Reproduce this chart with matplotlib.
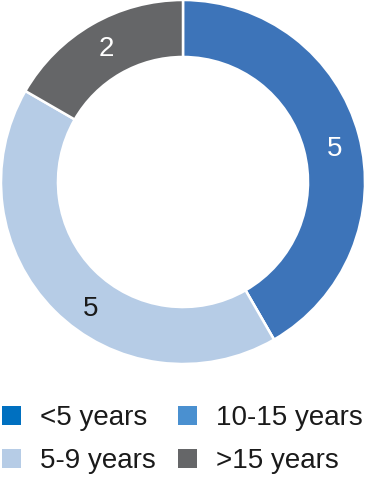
import matplotlib
matplotlib.use("Agg")
import matplotlib.pyplot as plt
from matplotlib.patches import Patch
import numpy as np

# Data (series order as in the source chart)
categories = ["<5 years", "10-15 years", "5-9 years", ">15 years"]
values = [5, 0, 5, 2]
slice_colors = ["#3D74B9", "#4A90D0", "#B6CCE6", "#656668"]
legend_colors = ["#0070C0", "#4A90D0", "#B6CCE6", "#656668"]
label_colors = ["white", "white", "#1a1a1a", "white"]
label_angle_shift = [-2.2, 0.0, 8.6, -0.4]  # label placement tweak (degrees)

FONT = "Liberation Sans"
W, H = 366, 478
fig = plt.figure(figsize=(W / 100, H / 100), dpi=100)
ax = fig.add_axes([1 / W, (H - 364) / H, 364 / W, 364 / H])

ring = 0.313
wedges, _ = ax.pie(values, colors=slice_colors, startangle=90, counterclock=False,
                   radius=1.0, wedgeprops=dict(width=ring, edgecolor="white", linewidth=1.8))
ax.set_xlim(-1, 1)
ax.set_ylim(-1, 1)
ax.set_aspect("equal")
ax.axis("off")

total = sum(values)
angle = 90.0
r_lab = 1 - ring / 2 + 0.01
for v, c, s in zip(values, label_colors, label_angle_shift):
    span = 360.0 * v / total
    mid = np.deg2rad(angle - span / 2 + s)
    angle -= span
    if v == 0:
        continue
    ax.text(r_lab * np.cos(mid), r_lab * np.sin(mid) - 0.01, str(v), ha="center", va="center",
            fontsize=20, color=c, family=FONT)

# legend: column-major fill, so reorder to match row-major source layout
order = [0, 2, 1, 3]
handles = [Patch(facecolor=legend_colors[i], edgecolor="none", label=categories[i]) for i in order]
fig.legend(handles=handles, loc="upper left", bbox_to_anchor=(2 / W, 1 - 405 / H), ncol=2,
           frameon=False, prop=dict(family=FONT, size=20), handlelength=0.68, handleheight=0.68,
           handletextpad=0.68, columnspacing=0.8, labelspacing=0.62, borderaxespad=0,
           borderpad=0.0, labelcolor="#1a1a1a")

fig.savefig("out.png", dpi=100)
